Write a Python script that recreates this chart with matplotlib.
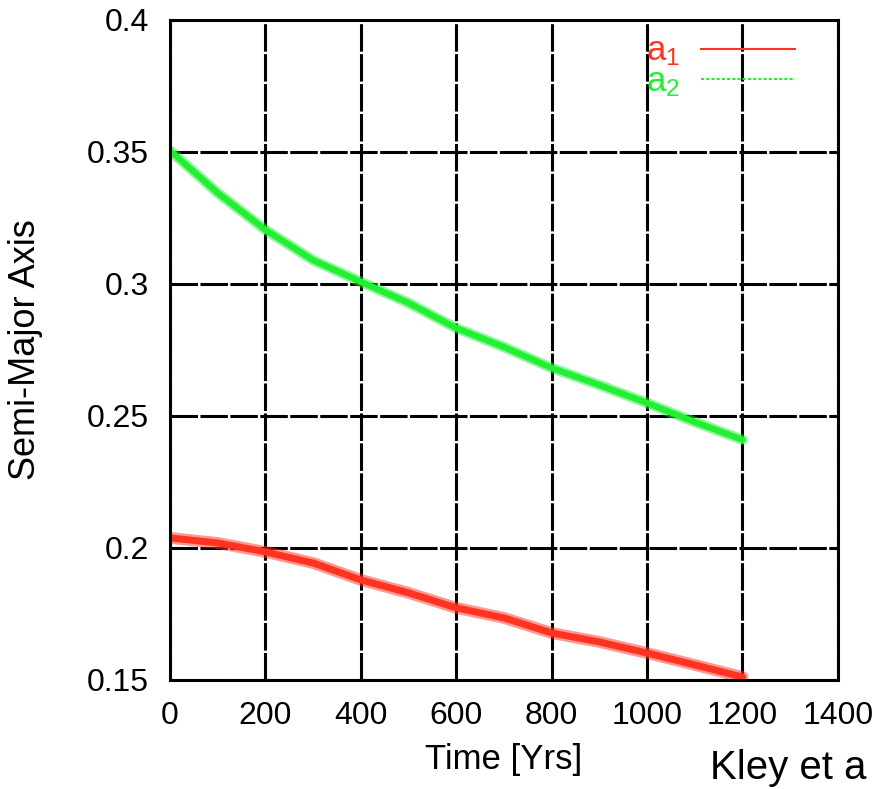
import matplotlib
matplotlib.use("Agg")
import matplotlib.pyplot as plt
from matplotlib.lines import Line2D

plt.rcParams['font.family'] = ['Liberation Sans', 'DejaVu Sans']
plt.rcParams['mathtext.fontset'] = 'custom'
plt.rcParams['mathtext.rm'] = 'Liberation Sans'
plt.rcParams['mathtext.it'] = 'Liberation Sans'

# values (every 100 yrs)
time_yrs = [0, 100, 200, 300, 400, 500, 600, 700, 800, 900, 1000, 1100, 1200]
a1 = [0.2038, 0.2019, 0.1985, 0.1943, 0.1879, 0.1830, 0.1773,
      0.1735, 0.1678, 0.1644, 0.1602, 0.1557, 0.1511]
a2 = [0.3505, 0.3345, 0.3205, 0.3090, 0.3008, 0.2928, 0.2833,
      0.2761, 0.2682, 0.2617, 0.2549, 0.2477, 0.2410]
x_ticks = [0, 200, 400, 600, 800, 1000, 1200, 1400]
y_ticks = [0.15, 0.2, 0.25, 0.3, 0.35, 0.4]
y_labels = ['0.15', '0.2', '0.25', '0.3', '0.35', '0.4']

red = '#ff3322'
green = '#22ee33'

fig = plt.figure(figsize=(8.82, 7.89), dpi=100)
ax = fig.add_axes([0.1927, 0.1382, 0.7573, 0.8365])

# 帶雜訊的粗線
ax.plot(time_yrs, a2, color=green, lw=7.5, alpha=0.5, solid_capstyle='round', zorder=3)
ax.plot(time_yrs, a2, color=green, lw=4.5, solid_capstyle='round', zorder=4)
ax.plot(time_yrs, a1, color=red, lw=8.5, alpha=0.5, solid_capstyle='round', zorder=3)
ax.plot(time_yrs, a1, color=red, lw=5, solid_capstyle='round', zorder=4)

ax.set_xlim(0, 1400)
ax.set_ylim(0.15, 0.4)
ax.set_xticks(x_ticks)
ax.set_yticks(y_ticks)
ax.set_yticklabels(y_labels)
ax.tick_params(direction='in', length=0, labelsize=23, pad=15)
ax.grid(True, color='black', lw=2.2, linestyle=(0, (9, 0.8)), zorder=1)
ax.set_axisbelow(True)
for s in ax.spines.values():
    s.set_linewidth(2.2)
    s.set_zorder(5)

ax.set_xlabel('Time [Yrs]', fontsize=25)
ax.xaxis.set_label_coords(0.5, -0.096)
ax.set_ylabel('Semi-Major Axis', fontsize=26)
ax.yaxis.set_label_coords(-0.19, 0.5)

handles = [Line2D([], [], color=red, lw=1.5),
           Line2D([], [], color=green, lw=1.5, linestyle=(0, (1.5, 1)))]
ax.legend(handles, [r'$\mathrm{a_1}$', r'$\mathrm{a_2}$'], loc='upper right',
          bbox_to_anchor=(0.982, 1.025), frameon=False, markerfirst=False,
          fontsize=25, handlelength=2.7, labelspacing=-0.1, handletextpad=0.6,
          labelcolor=[red, green])

# 右下角的引用文字
fig.text(0.805, 0.002, 'Kley et a', fontsize=29, ha='left', va='bottom')

fig.savefig('out.png', dpi=100)
